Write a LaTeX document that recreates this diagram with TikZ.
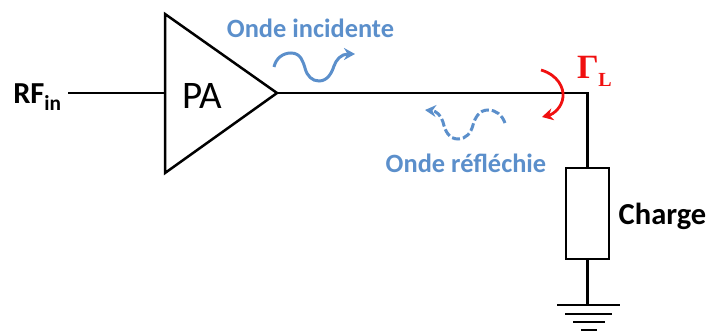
\documentclass[tikz,border=0pt]{standalone}
\usepackage{fontspec}
\setmainfont{Carlito}
\newfontfamily\gamfont{Liberation Serif}
\usetikzlibrary{arrows.meta}
\definecolor{wave}{HTML}{5B8FCB}
\definecolor{redc}{HTML}{F01010}
\tikzset{
 wire/.style={draw=black,line width=2.5pt},
 lbl/.style={inner sep=0pt,anchor=center},
 wavetxt/.style={lbl,text=wave,font=\fontsize{26.4}{28}\selectfont\bfseries},
 blktxt/.style={lbl,text=black,font=\fontsize{30.5}{32}\selectfont\bfseries},
 wavearrow/.style={draw=wave,line width=3pt,-{Stealth[length=11pt,width=12pt]}},
}
\begin{document}
\begin{tikzpicture}[x=1pt,y=-1pt]
\useasboundingbox (0,0) rectangle (707,334);
\coordinate (tA) at (165,14);
\coordinate (tB) at (165,173);
\coordinate (out) at (277,93);
\coordinate (inp) at (165,93);
\coordinate (start) at (68,93);
\coordinate (corner) at (587.5,93);
\node[draw=black,line width=2.5pt,minimum width=43pt,minimum height=91pt,inner sep=0pt] (load) at (587.5,213.5) {};
\coordinate (gnd) at (587.5,305);
\draw[wire,line join=miter] (tA) -- (tB) -- (out) -- cycle;
\draw[wire] (start) -- (inp);
\draw[wire] (out) -- (corner) -- (load.north -| corner);
\draw[wire] (load.south) -- (gnd);
\coordinate (g1l) at (557,305); \coordinate (g1r) at (620,305);
\coordinate (g2l) at (565,314); \coordinate (g2r) at (612,314);
\coordinate (g3l) at (573,322); \coordinate (g3r) at (605,322);
\coordinate (g4l) at (581,330); \coordinate (g4r) at (597,330);
\draw[wire] (g1l) -- (g1r);
\draw[wire] (g2l) -- (g2r);
\draw[wire] (g3l) -- (g3r);
\draw[wire] (g4l) -- (g4r);
\node[blktxt] (rf) at (37.5,97) {RF\textsubscript{in}};
\node[lbl,font=\fontsize{39}{40}\selectfont] (pa) at (202,96) {PA};
\node[wavetxt] (oi) at (310.5,28) {Onde incidente};
\node[wavetxt] (or) at (466,163) {Onde réfléchie};
\node[blktxt] (ch) at (662.5,216) {Charge};
\node[lbl,text=redc,font=\gamfont\bfseries\fontsize{34}{36}\selectfont] (gam) at (588,67) {Γ};
\node[lbl,text=redc,font=\gamfont\bfseries\fontsize{20}{22}\selectfont] (gamL) at (605,80) {L};
\draw[wavearrow] (274,67) .. controls (276,58) and (283,53) .. (291,53)
  .. controls (301,53) and (303,62) .. (305,68)
  .. controls (307,76) and (312,81) .. (319,81)
  .. controls (328,81) and (332,72) .. (334,66)
  .. controls (336,60) and (341,54) .. (355,54);
\draw[wavearrow,dash pattern=on 8pt off 3pt] (505,123) .. controls (502,115) and (496,110) .. (488,110)
  .. controls (479,110) and (475,118) .. (473,125)
  .. controls (471,133) and (466,139) .. (458,139)
  .. controls (449,139) and (445,131) .. (443,122)
  .. controls (441,115) and (436,111) .. (425,110);
\draw[draw=redc,line width=2.8pt,-{Stealth[length=11pt,width=12pt]}] (541,70) .. controls (558,75) and (564,88) .. (563,97)
  .. controls (562,107) and (554,114) .. (542,117);
\end{tikzpicture}
\end{document}
